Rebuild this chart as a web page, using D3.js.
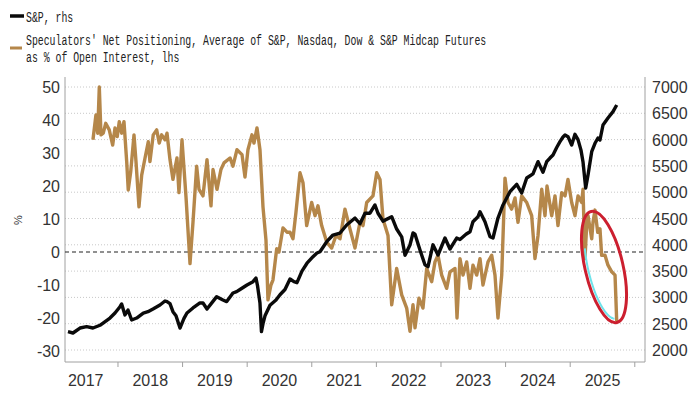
<!DOCTYPE html>
<html>
<head>
<meta charset="utf-8">
<script src="https://cdnjs.cloudflare.com/ajax/libs/d3/7.8.5/d3.min.js"></script>
<style>
  body { margin: 0; background: #fff; }
  .tick-label { font-family: "Liberation Sans", Arial, sans-serif; font-size: 16px; fill: #333; }
  .legend { font-family: "Liberation Mono", "DejaVu Sans Mono", monospace; font-size: 15.5px; fill: #222; }
</style>
</head>
<body>
<script>
// speculators' net positioning, % of open interest (lhs), decimal years
var posDates = [2017.613, 2017.659, 2017.686, 2017.711, 2017.737, 2017.772, 2017.810, 2017.865, 2017.918, 2017.954,
  2017.989, 2018.020, 2018.057, 2018.093, 2018.135, 2018.159, 2018.197, 2018.248, 2018.279, 2018.325,
  2018.367, 2018.418, 2018.469, 2018.495, 2018.546, 2018.599, 2018.639, 2018.676, 2018.728, 2018.759,
  2018.805, 2018.851, 2018.913, 2018.944, 2018.991, 2019.053, 2019.115, 2019.161, 2019.218, 2019.254,
  2019.316, 2019.378, 2019.440, 2019.471, 2019.533, 2019.594, 2019.641, 2019.734, 2019.780, 2019.842,
  2019.920, 2019.966, 2020.012, 2020.074, 2020.105, 2020.152, 2020.198, 2020.245, 2020.291, 2020.322,
  2020.368, 2020.399, 2020.457, 2020.492, 2020.554, 2020.616, 2020.663, 2020.709, 2020.755, 2020.817,
  2020.864, 2020.921, 2020.998, 2021.050, 2021.096, 2021.153, 2021.231, 2021.308, 2021.375, 2021.437,
  2021.514, 2021.591, 2021.669, 2021.746, 2021.793, 2021.850, 2021.947, 2022.005, 2022.056, 2022.102,
  2022.180, 2022.237, 2022.314, 2022.392, 2022.469, 2022.520, 2022.567, 2022.598, 2022.659, 2022.721,
  2022.779, 2022.856, 2022.907, 2022.954, 2023.011, 2023.088, 2023.139, 2023.217, 2023.248, 2023.294,
  2023.341, 2023.398, 2023.449, 2023.495, 2023.553, 2023.604, 2023.650, 2023.728, 2023.785, 2023.836,
  2023.882, 2023.940, 2023.991, 2024.037, 2024.094, 2024.146, 2024.192, 2024.249, 2024.327, 2024.404,
  2024.455, 2024.502, 2024.559, 2024.610, 2024.641, 2024.714, 2024.765, 2024.811, 2024.869, 2024.920,
  2024.966, 2025.023, 2025.074, 2025.121, 2025.178, 2025.198, 2025.229, 2025.255, 2025.276, 2025.333,
  2025.353, 2025.384, 2025.426, 2025.461, 2025.487, 2025.539, 2025.585, 2025.643, 2025.694, 2025.709,
  2025.720];
var posValues = [34, 41.5, 36, 50, 35.5, 36, 39, 37, 32.4, 37.6,
  35, 39.5, 36, 39.5, 27.4, 18.8, 24.3, 35.5, 27.4, 13.7,
  23.3, 28.4, 33.4, 27.4, 35.5, 37, 33, 35.5, 34, 36,
  28, 22, 28.5, 18, 34, 16.7, -3.5, 9, 26, 19,
  17, 28, 14, 25, 19, 25, 27, 28.5, 26, 31,
  29.5, 22.7, 31, 35.5, 33, 37.6, 31, 13.6, 3.6, -14.5,
  -10, -8.5, 1, 0, 7.3, 6, 6, 4, 12, 24,
  21, 8, 15, 11, 14, 8, 3, 1.2, 5, 4,
  13, 7, 1.2, 9, 8, 15, 17, 24, 22, 10,
  5, -16, -5, -13, -17, -24, -16, -23, -14, -17,
  -5, -9, -3, -1, -7, -11, -6, -5, -20, -2,
  -7, -3, -11, -4, -7, -2, -10, -3, -1, -7,
  -20, -7, 22.4, 15, 13, 16.4, 9, 17, 15, 11,
  -2, 5, 19, 11, 20, 11, 17, 8, 18, 17,
  22, 15, 11, 17, 15, 19, -2, 8, 11, 4,
  9, 12.7, 6, 7, -1, -1, -4, -6, -7, -15,
  -21];

// S&P 500 index level (rhs)
var spxDates = [2017.226, 2017.303, 2017.412, 2017.515, 2017.613, 2017.721, 2017.876, 2017.954, 2018.031, 2018.057,
  2018.108, 2018.155, 2018.212, 2018.289, 2018.392, 2018.464, 2018.542, 2018.650, 2018.728, 2018.759,
  2018.805, 2018.851, 2018.898, 2018.960, 2019.022, 2019.068, 2019.161, 2019.269, 2019.316, 2019.378,
  2019.455, 2019.528, 2019.625, 2019.683, 2019.780, 2019.837, 2019.889, 2019.997, 2020.090, 2020.136,
  2020.159, 2020.198, 2020.221, 2020.245, 2020.276, 2020.353, 2020.446, 2020.508, 2020.585, 2020.663,
  2020.724, 2020.771, 2020.848, 2020.926, 2021.019, 2021.080, 2021.127, 2021.231, 2021.328, 2021.437,
  2021.540, 2021.669, 2021.746, 2021.824, 2021.901, 2021.978, 2022.025, 2022.102, 2022.237, 2022.314,
  2022.392, 2022.443, 2022.520, 2022.567, 2022.598, 2022.675, 2022.752, 2022.799, 2022.876, 2022.954,
  2023.062, 2023.139, 2023.243, 2023.294, 2023.387, 2023.449, 2023.495, 2023.573, 2023.604, 2023.681,
  2023.759, 2023.805, 2023.882, 2023.960, 2024.017, 2024.068, 2024.172, 2024.249, 2024.327, 2024.424,
  2024.502, 2024.579, 2024.636, 2024.687, 2024.734, 2024.791, 2024.842, 2024.889, 2024.920, 2024.966,
  2025.023, 2025.074, 2025.121, 2025.167, 2025.198, 2025.240, 2025.276, 2025.333, 2025.384, 2025.430,
  2025.461, 2025.508, 2025.585, 2025.663, 2025.720];
var spxValues = [2348, 2323, 2418, 2443, 2418, 2470, 2608, 2703, 2823, 2875,
  2666, 2760, 2570, 2608, 2703, 2728, 2780, 2856, 2932, 2918,
  2880, 2728, 2650, 2418, 2600, 2703, 2799, 2894, 2894, 2780,
  2900, 3014, 2951, 2920, 3084, 3109, 3150, 3236, 3299, 3369,
  3230, 2894, 2350, 2500, 2650, 2850, 2950, 3050, 3150, 3350,
  3300, 3280, 3500, 3650, 3774, 3844, 3869, 4059, 4186, 4224,
  4376, 4509, 4400, 4600, 4600, 4757, 4600, 4450, 4534, 4300,
  4150, 3800, 3996, 4224, 4200, 3900, 3620, 3584, 4000, 3806,
  4129, 3920, 4129, 4100, 4200, 4249, 4439, 4534, 4629, 4439,
  4154, 4129, 4509, 4757, 4890, 5010, 5150, 4985, 5270, 5350,
  5580, 5380, 5580, 5650, 5707, 5850, 5960, 6050, 6087, 6056,
  5897, 6100, 6000, 5800, 5580, 5080, 5327, 5770, 5930, 6030,
  5992, 6277, 6410, 6531, 6658];

var yearLabels = [2017, 2018, 2019, 2020, 2021, 2022, 2023, 2024, 2025];
var yearTicks = [2018, 2019, 2020, 2021, 2022, 2023, 2024, 2025, 2026];
var leftTicks = [-30, -20, -10, 0, 10, 20, 30, 40, 50];
var rightTicks = [2000, 2500, 3000, 3500, 4000, 4500, 5000, 5500, 6000, 6500, 7000];

var width = 700, height = 394;
var plotLeft = 65, plotRight = 645, plotTop = 77, plotBottom = 362;

var svg = d3.select("body").append("svg")
    .attr("width", width)
    .attr("height", height);

var x = d3.scaleLinear().domain([2017.18, 2026.158]).range([plotLeft, plotRight]);
var yL = d3.scaleLinear().domain([-30, 50]).range([351, 87]);
var yR = d3.scaleLinear().domain([2000, 7000]).range([350, 87]);

// dotted gridlines follow the right axis
svg.append("g")
    .selectAll("line")
    .data(rightTicks)
    .enter()
    .append("line")
    .attr("x1", plotLeft)
    .attr("x2", plotRight)
    .attr("y1", function (d) { return yR(d); })
    .attr("y2", function (d) { return yR(d); })
    .attr("stroke", "#c8c8c8")
    .attr("stroke-width", 1)
    .attr("stroke-dasharray", "1,2");

// axis frame
svg.append("path")
    .attr("d", "M" + plotLeft + "," + plotTop + "V" + plotBottom + "H" + plotRight + "V" + plotTop)
    .attr("fill", "none")
    .attr("stroke", "#a0a0a0")
    .attr("stroke-width", 1);

// bottom ticks
svg.append("g")
    .selectAll("line")
    .data(yearTicks)
    .enter()
    .append("line")
    .attr("x1", function (d) { return x(d); })
    .attr("x2", function (d) { return x(d); })
    .attr("y1", plotBottom)
    .attr("y2", plotBottom + 5)
    .attr("stroke", "#a0a0a0");

svg.append("g")
    .selectAll("text")
    .data(yearLabels)
    .enter()
    .append("text")
    .attr("class", "tick-label")
    .attr("x", function (d) { return x(d + 0.5); })
    .attr("y", 386)
    .attr("text-anchor", "middle")
    .text(function (d) { return d; });

svg.append("g")
    .selectAll("text")
    .data(leftTicks)
    .enter()
    .append("text")
    .attr("class", "tick-label")
    .attr("x", 60)
    .attr("y", function (d) { return yL(d) + 6; })
    .attr("text-anchor", "end")
    .text(function (d) { return d; });

svg.append("g")
    .selectAll("text")
    .data(rightTicks)
    .enter()
    .append("text")
    .attr("class", "tick-label")
    .attr("x", 652)
    .attr("y", function (d) { return yR(d) + 6; })
    .text(function (d) { return d; });

svg.append("text")
    .attr("class", "tick-label")
    .attr("transform", "translate(22,220) rotate(-90)")
    .attr("text-anchor", "middle")
    .style("font-size", "11px")
    .text("%");

// zero line
svg.append("line")
    .attr("x1", plotLeft)
    .attr("x2", plotRight)
    .attr("y1", yL(0))
    .attr("y2", yL(0))
    .attr("stroke", "#222")
    .attr("stroke-width", 1.2)
    .attr("stroke-dasharray", "4,3");

var posLine = d3.line()
    .x(function (d, i) { return x(posDates[i]); })
    .y(function (d) { return yL(d); });
var spxLine = d3.line()
    .x(function (d, i) { return x(spxDates[i]); })
    .y(function (d) { return yR(d); });

svg.append("path")
    .attr("d", posLine(posValues))
    .attr("fill", "none")
    .attr("stroke", "#b5874a")
    .attr("stroke-width", 3.4)
    .attr("stroke-linejoin", "round");

svg.append("path")
    .attr("d", spxLine(spxValues))
    .attr("fill", "none")
    .attr("stroke", "#0a0a0a")
    .attr("stroke-width", 3.4)
    .attr("stroke-linejoin", "round");

// hand-drawn highlight round the 2025 drop
var cx = 604, cy = 267, rot = -13;
var cyanPts = d3.range(95, 206, 5).map(function (t) {
    var a = t * Math.PI / 180;
    return [16 * Math.cos(a), 53 * Math.sin(a)];
});
svg.append("path")
    .attr("transform", "translate(" + cx + "," + cy + ") rotate(" + rot + ")")
    .attr("d", d3.line().curve(d3.curveBasis)(cyanPts))
    .attr("fill", "none")
    .attr("stroke", "#6fe3ea")
    .attr("stroke-width", 2);
svg.append("ellipse")
    .attr("transform", "translate(" + cx + "," + cy + ") rotate(" + rot + ")")
    .attr("rx", 19)
    .attr("ry", 57)
    .attr("fill", "none")
    .attr("stroke", "#cc1f2f")
    .attr("stroke-width", 3);

// legend
svg.append("line")
    .attr("x1", 10).attr("x2", 24).attr("y1", 16).attr("y2", 16)
    .attr("stroke", "#0a0a0a").attr("stroke-width", 3.5);
svg.append("line")
    .attr("x1", 10).attr("x2", 22).attr("y1", 48).attr("y2", 48)
    .attr("stroke", "#b5874a").attr("stroke-width", 3);

// condensed monospace: squeeze horizontally
var legendRows = [
    {text: "S&P, rhs", y: 22},
    {text: "Speculators' Net Positioning, Average of S&P, Nasdaq, Dow & S&P Midcap Futures", y: 45},
    {text: "as % of Open Interest, lhs", y: 62}
];
svg.append("g")
    .selectAll("text")
    .data(legendRows)
    .enter()
    .append("text")
    .attr("class", "legend")
    .attr("transform", function (d) { return "translate(26," + d.y + ") scale(0.635,1)"; })
    .text(function (d) { return d.text; });
</script>
</body>
</html>
